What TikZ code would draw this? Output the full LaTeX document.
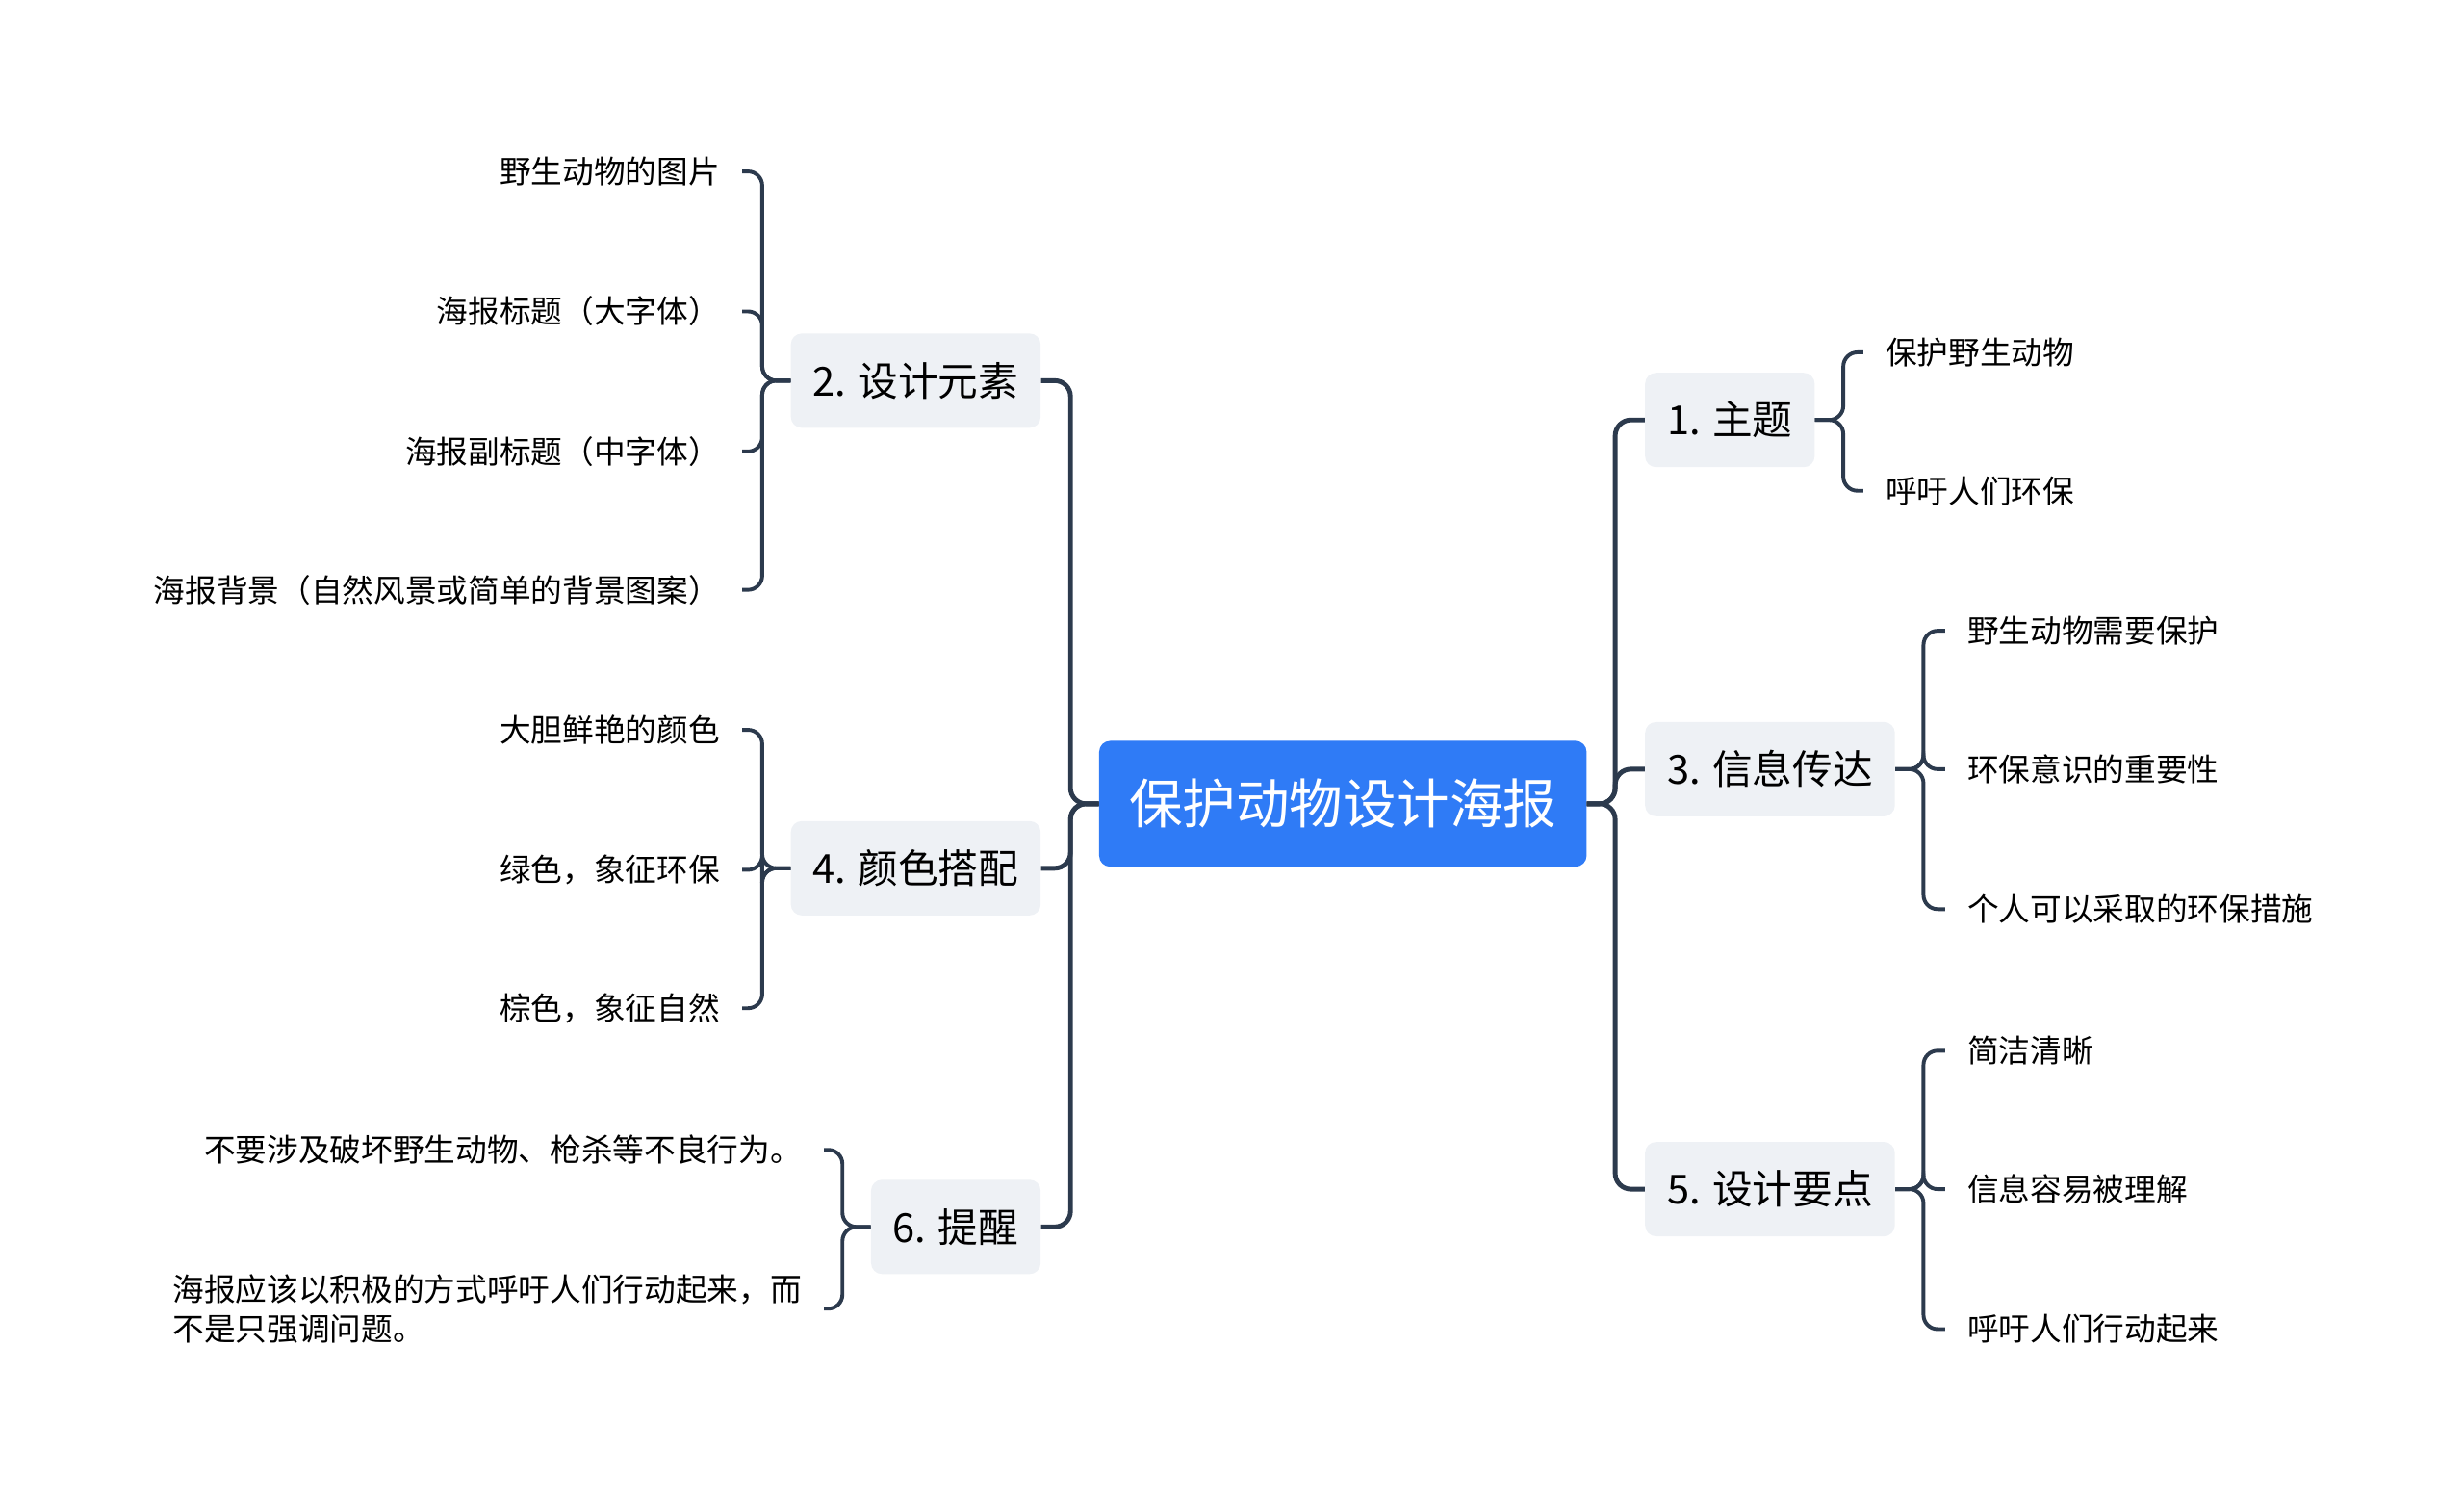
\documentclass[tikz,border=0pt]{standalone}
\usepackage{fontspec}
\setmainfont{Noto Sans CJK SC}
\definecolor{linec}{HTML}{2C3A4D}
\definecolor{rootblue}{HTML}{2F7BF6}
\definecolor{boxgray}{HTML}{EEF1F5}
\begin{document}
\begin{tikzpicture}[x=1pt,y=-1pt,
  root/.style={fill=rootblue,text=white,rounded corners=7pt,inner xsep=19pt,minimum height=80pt,font=\fontsize{34}{40}\selectfont},
  branch/.style={fill=boxgray,rounded corners=7pt,inner xsep=14pt,minimum height=60pt,font=\fontsize{25.5}{30}\selectfont},
  leaf/.style={inner xsep=14pt,inner ysep=2pt,font=\fontsize{20}{25}\selectfont},
  trunk/.style={draw=linec,line width=3pt,rounded corners=10pt},
  twig/.style={draw=linec,line width=2.4pt,rounded corners=9pt}]
\useasboundingbox (0,0) rectangle (1567,953.7);
\node[root] (root) at (854,511) {保护动物设计海报};
\node[branch,anchor=west] (zt) at (1046,267) {1. 主题};
\node[branch,anchor=west] (xx) at (1046,489) {3. 信息传达};
\node[branch,anchor=west] (yd) at (1046,756) {5. 设计要点};
\node[branch,anchor=east] (ys) at (662,242) {2. 设计元素};
\node[branch,anchor=east] (ps) at (662,552) {4. 颜色搭配};
\node[branch,anchor=east] (tx) at (662,780) {6. 提醒};
\foreach \b in {zt,xx,yd} \draw[trunk] (root.east) -- ++(18,0) |- (\b.west);
\foreach \b in {ys,ps,tx} \draw[trunk] (root.west) -- ++(-18,0) |- (\b.east);
\foreach \y/\t [count=\i] in {224/保护野生动物,312/呼吁人们环保}
  \node[leaf,anchor=west] (zt\i) at (1185,\y) {\t};
\foreach \y/\t [count=\i] in {401/野生动物需要保护,489/环保意识的重要性,578/个人可以采取的环保措施}
  \node[leaf,anchor=west] (xx\i) at (1237,\y) {\t};
\foreach \y/\t [count=\i] in {668/简洁清晰,756/信息容易被理解,845/呼吁人们行动起来}
  \node[leaf,anchor=west] (yd\i) at (1237,\y) {\t};
\foreach \y/\t [count=\i] in {109/野生动物的图片,198/海报标题（大字体）,287/海报副标题（中字体）,375/海报背景（自然风景或简单的背景图案）}
  \node[leaf,anchor=east] (ys\i) at (472,\y) {\t};
\foreach \y/\t [count=\i] in {464/大胆鲜艳的颜色,553/绿色，象征环保,641/棕色，象征自然}
  \node[leaf,anchor=east] (ps\i) at (472,\y) {\t};
\node[leaf,anchor=east] (tx1) at (524,731) {不要涉及破坏野生动物、枪杀等不良行为。};
\node[leaf,anchor=east,align=left] (tx2) at (524,832) {海报应该以积极的方式呼吁人们行动起来，而\\不是只强调问题。};
\foreach \i in {1,2} \draw[twig] (zt.east) -- ++(18,0) |- (zt\i.west);
\foreach \i in {1,2,3} \draw[twig] (xx.east) -- ++(18,0) |- (xx\i.west);
\foreach \i in {1,2,3} \draw[twig] (yd.east) -- ++(18,0) |- (yd\i.west);
\foreach \i in {1,...,4} \draw[twig] (ys.west) -- ++(-18,0) |- (ys\i.east);
\foreach \i in {1,2,3} \draw[twig] (ps.west) -- ++(-18,0) |- (ps\i.east);
\foreach \i in {1,2} \draw[twig] (tx.west) -- ++(-18,0) |- (tx\i.east);
\end{tikzpicture}
\end{document}
